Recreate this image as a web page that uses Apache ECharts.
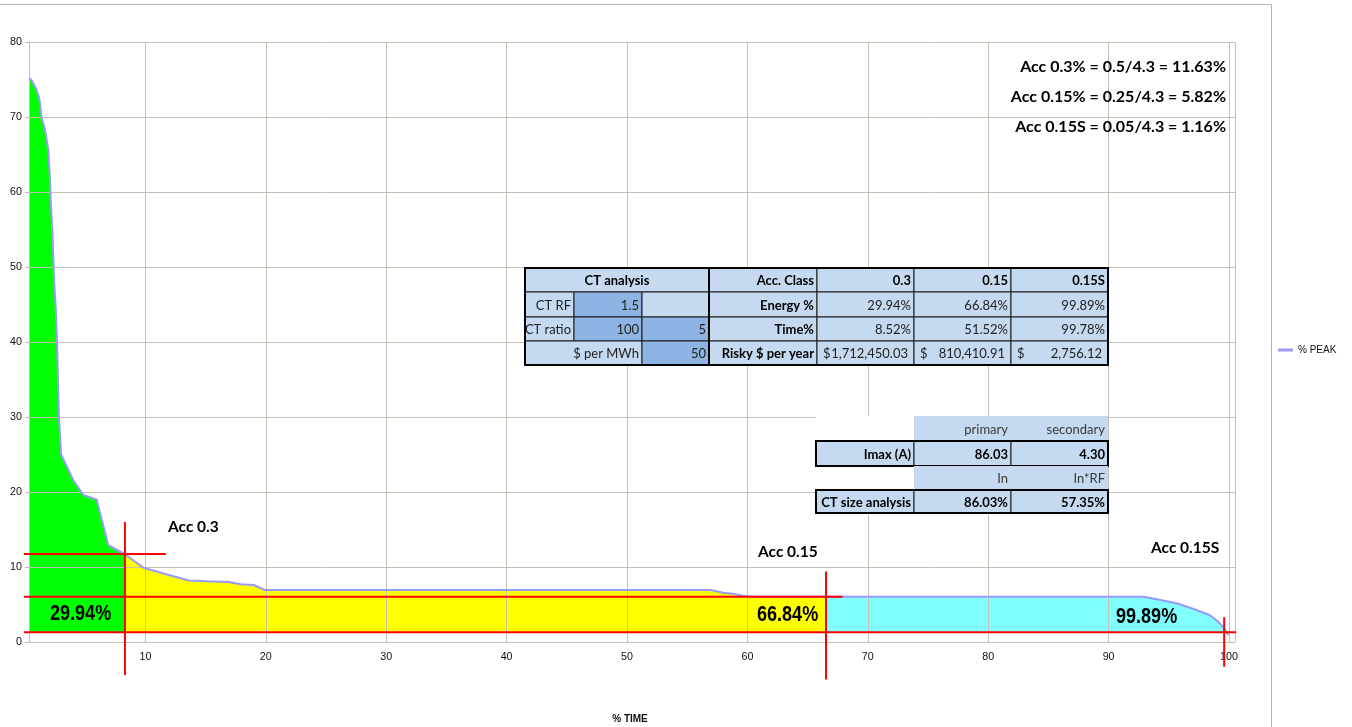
<!DOCTYPE html>
<html>
<head>
<meta charset="utf-8">
<script src="https://cdn.jsdelivr.net/npm/echarts@6/dist/echarts.min.js"></script>
<style>
  html, body { margin: 0; padding: 0; background: #fff; }
  #chart { width: 1352px; height: 727px; }
</style>
</head>
<body>
<div id="chart"></div>
<script>
// Load duration curve: share of peak load versus share of time
const timePct = [0.33, 0.55, 0.91, 1.19, 1.38, 1.66, 1.94, 2.08, 2.16, 2.27, 2.35, 2.43, 2.55, 2.66, 2.82,
  3.0, 4.0, 4.85, 5.95, 6.92, 8.3, 9.83, 11.8, 13.6, 15.1, 16.9, 17.9, 19.0, 19.9, 40.0, 56.95,
  58.0, 58.9, 59.6, 60.5, 66.53, 92.9, 94.0, 95.65, 97.3, 98.4, 99.1, 99.6, 99.8, 99.94];
const peakPct = [75.2, 74.9, 73.8, 72.5, 69.9, 68.3, 65.6, 61.6, 58.0, 54.9, 51.4, 47.8, 44.7, 40.0, 30.0,
  25.0, 21.6, 19.6, 19.0, 12.9, 11.7, 9.9, 9.0, 8.2, 8.1, 8.0, 7.7, 7.6, 6.93, 6.93, 6.93,
  6.58, 6.4, 6.18, 6.04, 6.04, 6.04, 5.69, 5.16, 4.27, 3.6, 2.71, 1.82, 1.29, 0.93];

// Accuracy class limits (% peak) and the times where the bands change
const thresholdLevels = [11.73, 6.04, 1.29];
const thresholdTimes = [8.3, 66.53, 99.6];

// Extents of the red guide lines
const hGuideSpan = [[-0.1, 11.7], [-0.36, 67.9], [-0.36, 101.5]];
const vGuideSpan = [[-4.4, 16.0], [-5.0, 9.4], [-3.3, 3.3]];

// Annotation texts
const accLabels = ['Acc 0.3', 'Acc 0.15', 'Acc 0.15S'];
const accRatios = ['Acc 0.3% = 0.5/4.3 = 11.63%', 'Acc 0.15% = 0.25/4.3 = 5.82%', 'Acc 0.15S = 0.05/4.3 = 1.16%'];

// CT analysis table
const accClasses = ['0.3', '0.15', '0.15S'];
const energyPct = ['29.94%', '66.84%', '99.89%'];
const timeShare = ['8.52%', '51.52%', '99.78%'];
const riskyDollars = ['1,712,450.03', '810,410.91', '2,756.12'];
const ctRF = '1.5';
const ctRatio = ['100', '5'];
const dollarsPerMWh = '50';
const imaxA = ['86.03', '4.30'];
const ctSize = ['86.03%', '57.35%'];

const GRID_COLOR = '#c4c0b4';
const LIGHT = '#c5d9f1';
const DARK = '#8db4e2';
const CAL = 'Lato, "Noto Sans", sans-serif';
const ARIAL = '"Liberation Sans", Arial, sans-serif';

const curve = timePct.map((t, i) => [t, peakPct[i]]);
const baseline = thresholdLevels[2];
const band = (lo, hi) => curve.filter(p => p[0] >= lo && p[0] <= hi && p[1] >= baseline);

const bandSeries = [
  { data: band(0, thresholdTimes[0]), color: '#00ff00' },
  { data: band(thresholdTimes[0], thresholdTimes[1]), color: '#ffff00' },
  { data: band(thresholdTimes[1], 101), color: '#80ffff' }
].map((b, i) => ({
  type: 'line', name: 'band' + i, data: b.data, symbol: 'none', silent: true,
  lineStyle: { width: 0 }, areaStyle: { color: b.color, opacity: 1, origin: baseline }, z: 1
}));

const guideSeries = [];
thresholdLevels.forEach((lvl, i) => {
  guideSeries.push({
    type: 'line', name: 'h' + i, data: [[hGuideSpan[i][0], lvl], [hGuideSpan[i][1], lvl]],
    symbol: 'none', clip: false, silent: true, lineStyle: { color: '#ff0000', width: 2 }, z: 6
  });
});
thresholdTimes.forEach((t, i) => {
  guideSeries.push({
    type: 'line', name: 'v' + i, data: [[t, vGuideSpan[i][0]], [t, vGuideSpan[i][1]]],
    symbol: 'none', clip: false, silent: true, lineStyle: { color: '#ff0000', width: 2 }, z: 6
  });
});

// ---- graphic helpers ----
const graphics = [];
function rect(x, y, w, h, fill, stroke, lw) {
  graphics.push({
    type: 'rect', z: 20, silent: true,
    shape: { x: x, y: y, width: w, height: h },
    style: { fill: fill || 'none', stroke: stroke || null, lineWidth: lw || 0 }
  });
}
function label(str, x, y, align, font, color, sx) {
  graphics.push({
    type: 'text', z: 21, silent: true, x: x, y: y, scaleX: sx || 1,
    style: { text: str, align: align, verticalAlign: 'middle', font: font, fill: color || '#000' }
  });
}
function cell(cols, rows, r, c0, c1, fill, str, align, bold, stroke) {
  const x0 = cols[c0], x1 = cols[c1], y0 = rows[r], y1 = rows[r + 1];
  rect(x0, y0, x1 - x0, y1 - y0, fill, stroke ? '#1a1a1a' : null, stroke ? 1 : 0);
  if (str === '') return;
  const font = (bold ? 'bold ' : '') + '13px ' + CAL;
  const ty = (y0 + y1) / 2 + 1;
  if (align === 'center') label(str, (x0 + x1) / 2, ty, 'center', font);
  else label(str, x1 - 3, ty, 'right', font, bold ? '#000' : '#222');
}
function money(cols, rows, r, c, str) {
  const x0 = cols[c], x1 = cols[c + 1], y0 = rows[r], y1 = rows[r + 1];
  rect(x0, y0, x1 - x0, y1 - y0, LIGHT, '#1a1a1a', 1);
  const ty = (y0 + y1) / 2 + 1;
  label('$', x0 + 6, ty, 'left', '13px ' + CAL, '#222');
  label(str, x1 - 6, ty, 'right', '13px ' + CAL, '#222');
}

// Upper table: CT analysis and accuracy classes
const c1 = [525, 574, 642, 709, 817, 914, 1011, 1108];
const r1 = [268, 292, 317, 341, 365];
cell(c1, r1, 0, 0, 3, LIGHT, 'CT analysis', 'center', true, true);
cell(c1, r1, 0, 3, 4, LIGHT, 'Acc. Class', 'right', true, true);
accClasses.forEach((v, i) => cell(c1, r1, 0, 4 + i, 5 + i, LIGHT, v, 'right', true, true));
cell(c1, r1, 1, 0, 1, LIGHT, 'CT RF', 'right', false, true);
cell(c1, r1, 1, 1, 2, DARK, ctRF, 'right', false, true);
cell(c1, r1, 1, 2, 3, LIGHT, '', 'right', false, true);
cell(c1, r1, 1, 3, 4, LIGHT, 'Energy %', 'right', true, true);
energyPct.forEach((v, i) => cell(c1, r1, 1, 4 + i, 5 + i, LIGHT, v, 'right', false, true));
cell(c1, r1, 2, 0, 1, LIGHT, 'CT ratio', 'right', false, true);
cell(c1, r1, 2, 1, 2, DARK, ctRatio[0], 'right', false, true);
cell(c1, r1, 2, 2, 3, DARK, ctRatio[1], 'right', false, true);
cell(c1, r1, 2, 3, 4, LIGHT, 'Time%', 'right', true, true);
timeShare.forEach((v, i) => cell(c1, r1, 2, 4 + i, 5 + i, LIGHT, v, 'right', false, true));
cell(c1, r1, 3, 0, 2, LIGHT, '$ per MWh', 'right', false, true);
cell(c1, r1, 3, 2, 3, DARK, dollarsPerMWh, 'right', false, true);
cell(c1, r1, 3, 3, 4, LIGHT, 'Risky $ per year', 'right', true, true);
riskyDollars.forEach((v, i) => money(c1, r1, 3, 4 + i, v));
rect(c1[0], r1[0], c1[7] - c1[0], r1[4] - r1[0], null, '#000', 2);
graphics.push({ type: 'line', z: 21, silent: true, shape: { x1: c1[3], y1: r1[0], x2: c1[3], y2: r1[4] }, style: { stroke: '#000', lineWidth: 2 } });

// Lower table: CT sizing
const c2 = [816, 914, 1011, 1108];
const r2 = [416, 441, 466, 490, 513];
rect(c2[0], r2[0], c2[3] - c2[0], r2[4] - r2[0], '#fff', null, 0);
cell(c2, r2, 0, 1, 2, LIGHT, '', 'right', false, false);
cell(c2, r2, 0, 2, 3, LIGHT, '', 'right', false, false);
label('primary', c2[2] - 3, 429.5, 'right', '13px ' + CAL, '#3a3a3a');
label('secondary', c2[3] - 3, 429.5, 'right', '13px ' + CAL, '#3a3a3a');
cell(c2, r2, 1, 0, 1, LIGHT, 'Imax (A)', 'right', true, true);
imaxA.forEach((v, i) => cell(c2, r2, 1, 1 + i, 2 + i, LIGHT, v, 'right', true, true));
rect(c2[0], r2[1], c2[3] - c2[0], r2[2] - r2[1], null, '#000', 2);
cell(c2, r2, 2, 1, 2, LIGHT, '', 'right', false, false);
cell(c2, r2, 2, 2, 3, LIGHT, '', 'right', false, false);
label('In', c2[2] - 3, 479, 'right', '13px ' + CAL, '#3a3a3a');
label('In*RF', c2[3] - 3, 479, 'right', '13px ' + CAL, '#3a3a3a');
cell(c2, r2, 3, 0, 1, LIGHT, 'CT size analysis', 'right', true, true);
ctSize.forEach((v, i) => cell(c2, r2, 3, 1 + i, 2 + i, LIGHT, v, 'right', true, true));
rect(c2[0], r2[3], c2[3] - c2[0], r2[4] - r2[3], null, '#000', 2);

// Chart annotations
const accFont = 'bold 16px ' + CAL;
label(accRatios[0], 1226, 67, 'right', accFont);
label(accRatios[1], 1226, 97, 'right', accFont);
label(accRatios[2], 1226, 127, 'right', accFont);
label(accLabels[0], 168, 527, 'left', 'bold 15.5px ' + CAL);
label(accLabels[1], 758, 552, 'left', 'bold 15.5px ' + CAL);
label(accLabels[2], 1151, 548, 'left', 'bold 15.5px ' + CAL);
const pctFont = 'bold 22px ' + ARIAL;
label(energyPct[0], 50, 614, 'left', pctFont, '#000', 0.82);
label(energyPct[1], 757, 615, 'left', pctFont, '#000', 0.82);
label(energyPct[2], 1116, 617, 'left', pctFont, '#000', 0.82);

// Outer chart frame
graphics.push({
  type: 'rect', z: 0, silent: true,
  shape: { x: -2, y: 4.5, width: 1273.5, height: 740 },
  style: { fill: 'none', stroke: '#b4b0a6', lineWidth: 1 }
});

const chart = echarts.init(document.getElementById('chart'));
chart.setOption({
  animation: false,
  backgroundColor: '#fff',
  grid: { left: 25, right: 117, top: 42, bottom: 85, containLabel: false, outerBoundsMode: 'none' },
  legend: {
    data: [{ name: '% PEAK', icon: 'rect' }],
    left: 1273, top: 340, itemWidth: 15, itemHeight: 3,
    textStyle: { fontFamily: ARIAL, fontSize: 10, color: '#111' }
  },
  xAxis: {
    type: 'value', min: 0, max: 100.5, interval: 10, z: 2,
    axisLine: { show: true, lineStyle: { color: GRID_COLOR } },
    axisTick: { show: false },
    splitLine: { show: true, showMinLine: false, lineStyle: { color: GRID_COLOR, width: 1 } },
    axisLabel: {
      formatter: v => (v > 0 && v % 10 === 0) ? String(v) : '',
      margin: 10, fontSize: 10.7, fontFamily: ARIAL, color: '#111'
    },
    name: '% TIME', nameLocation: 'middle', nameGap: 72,
    nameTextStyle: { fontWeight: 'bold', fontSize: 10, fontFamily: ARIAL, color: '#111' }
  },
  yAxis: {
    type: 'value', min: 0, max: 80, interval: 10, offset: -4, z: 2,
    axisLine: { show: true, lineStyle: { color: GRID_COLOR } },
    axisTick: { show: false },
    splitLine: { show: true, lineStyle: { color: GRID_COLOR, width: 1 } },
    axisLabel: { margin: 7, fontSize: 10.7, fontFamily: ARIAL, color: '#111' }
  },
  series: bandSeries.concat([{
    type: 'line', name: '% PEAK', data: curve, symbol: 'none',
    lineStyle: { color: '#9999ff', width: 2 }, itemStyle: { color: '#9999ff' }, z: 4
  }]).concat(guideSeries),
  graphic: graphics
});
</script>
</body>
</html>
